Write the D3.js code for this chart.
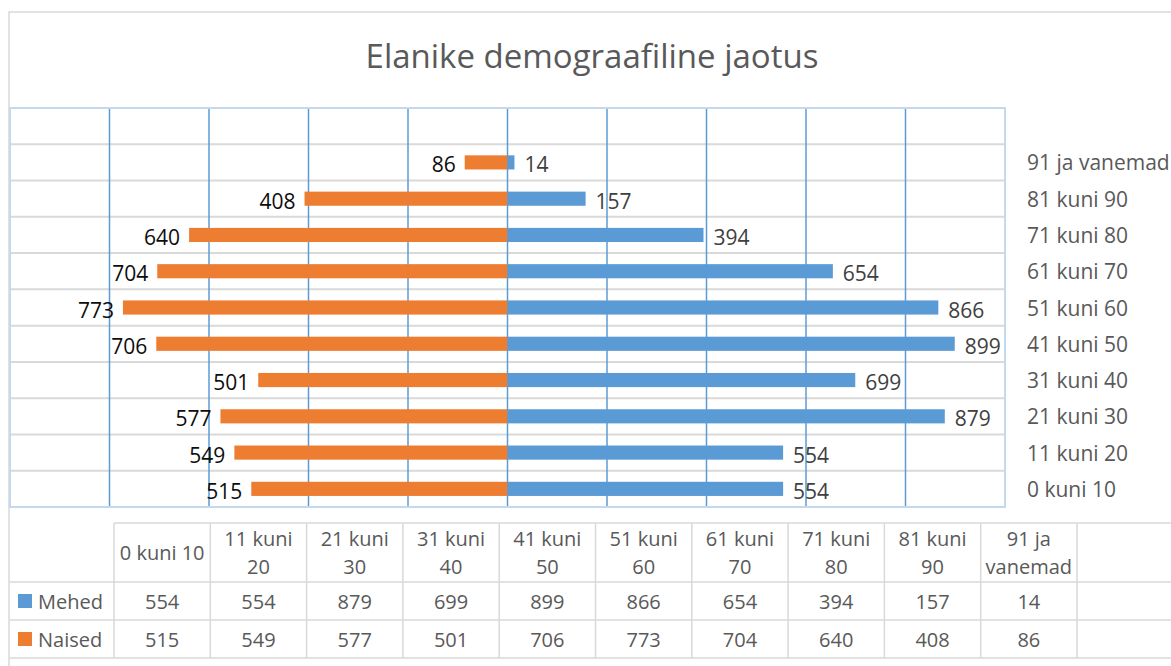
<!DOCTYPE html>
<meta charset="utf-8">
<title>Elanike demograafiline jaotus</title>

<style>
body {
  position: absolute;
  margin: 0px;
}
svg {
  background-color: #ffffff;
  font-family: "Open Sans", sans-serif;
}
line.hgrid {
  stroke: #d9d9d9;
  stroke-width: 2;
}
line.vgrid {
  stroke: #5b9bd5;
  stroke-width: 1.5;
}
rect.mehed {
  fill: #5b9bd5;
}
rect.naised {
  fill: #ed7d31;
}
line.table {
  stroke: #d9d9d9;
  stroke-width: 1.5;
}
</style>

<script src="https://d3js.org/d3.v7.min.js"></script>

<body>
<script>

// Chart data
var categories = ["0 kuni 10", "11 kuni 20", "21 kuni 30", "31 kuni 40", "41 kuni 50",
                  "51 kuni 60", "61 kuni 70", "71 kuni 80", "81 kuni 90", "91 ja vanemad"];
var mehed = [554, 554, 879, 699, 899, 866, 654, 394, 157, 14];
var naised = [515, 549, 577, 501, 706, 773, 704, 640, 408, 86];
var seriesNames = ["Mehed", "Naised"];
var seriesColors = ["#5b9bd5", "#ed7d31"];
var gridTicks = [-800, -600, -400, -200, 0, 200, 400, 600, 800];

// Set SVG size
var width = 1171, height = 666;

var svg = d3.select("body").append("svg")
    .attr("width", width)
    .attr("height", height);

// Chart area border
svg.append("path")
  .attr("d", "M9,666 L9,12 L1171,12")
  .attr("fill", "none")
  .attr("stroke", "#d9d9d9")
  .attr("stroke-width", 1.5);

// Title
svg.append("text")
  .attr("x", 592)
  .attr("y", 68)
  .attr("text-anchor", "middle")
  .style("font-size", "33px")
  .attr("fill", "#595959")
  .text("Elanike demograafiline jaotus");

// Plot area
var plot = {left: 10, right: 1005, top: 108, bottom: 507};

var x = d3.scaleLinear()
  .domain([-1000, 1000])
  .range([plot.left, plot.right]);

// one empty slot on top, like the original
var y = d3.scaleBand()
  .domain(categories.concat([""]))
  .range([plot.bottom, plot.top])
  .paddingInner(0.61)
  .paddingOuter(0.305);

var rowStep = y.step();
var rows = d3.range(categories.length + 1);

// horizontal gridlines between categories
svg.selectAll("line.hgrid")
    .data(rows)
  .enter().append("line")
    .attr("class", "hgrid")
    .attr("x1", plot.left)
    .attr("x2", plot.right)
    .attr("y1", function(d) { return plot.bottom - d * rowStep; })
    .attr("y2", function(d) { return plot.bottom - d * rowStep; });

// vertical gridlines
svg.selectAll("line.vgrid")
    .data(gridTicks)
  .enter().append("line")
    .attr("class", "vgrid")
    .attr("x1", function(d) { return x(d); })
    .attr("x2", function(d) { return x(d); })
    .attr("y1", plot.top)
    .attr("y2", plot.bottom);

// plot area border
svg.append("rect")
  .attr("x", plot.left)
  .attr("y", plot.top)
  .attr("width", plot.right - plot.left)
  .attr("height", plot.bottom - plot.top)
  .attr("fill", "none")
  .attr("stroke", "#c5d9ee")
  .attr("stroke-width", 2);

// Bars
svg.selectAll("rect.naised")
    .data(naised)
  .enter().append("rect")
    .attr("class", "naised")
    .attr("x", function(d) { return x(-d); })
    .attr("y", function(d, i) { return y(categories[i]); })
    .attr("width", function(d) { return x(0) - x(-d); })
    .attr("height", y.bandwidth());

svg.selectAll("rect.mehed")
    .data(mehed)
  .enter().append("rect")
    .attr("class", "mehed")
    .attr("x", x(0))
    .attr("y", function(d, i) { return y(categories[i]); })
    .attr("width", function(d) { return x(d) - x(0); })
    .attr("height", y.bandwidth());

// Data labels
svg.selectAll("text.lblN")
    .data(naised)
  .enter().append("text")
    .attr("class", "lblN")
    .attr("x", function(d) { return x(-d) - 9; })
    .attr("y", function(d, i) { return y(categories[i]) + y.bandwidth() / 2 + 2; })
    .attr("text-anchor", "end")
    .attr("dominant-baseline", "central")
    .style("font-size", "21px")
    .attr("fill", "#0d0d0d")
    .text(function(d) { return d; });

svg.selectAll("text.lblM")
    .data(mehed)
  .enter().append("text")
    .attr("class", "lblM")
    .attr("x", function(d) { return x(d) + 10; })
    .attr("y", function(d, i) { return y(categories[i]) + y.bandwidth() / 2 + 2; })
    .attr("dominant-baseline", "central")
    .style("font-size", "21px")
    .attr("fill", "#404040")
    .text(function(d) { return d; });

// Category labels on the right
svg.selectAll("text.cat")
    .data(categories)
  .enter().append("text")
    .attr("class", "cat")
    .attr("x", 1027)
    .attr("y", function(d) { return y(d) + y.bandwidth() / 2; })
    .attr("dominant-baseline", "central")
    .style("font-size", "21px")
    .attr("fill", "#595959")
    .text(function(d) { return d; });

// Data table
var table = {left: 114, top: 523, headBottom: 582, colW: 96.3, rowH: 38};
var nCols = categories.length + 1;
var rowLines = [table.headBottom, table.headBottom + table.rowH, table.headBottom + 2 * table.rowH];
var tableBottom = rowLines[2];

svg.append("line")
  .attr("class", "table")
  .attr("x1", table.left).attr("x2", width)
  .attr("y1", table.top).attr("y2", table.top);

svg.selectAll("line.trow")
    .data(rowLines)
  .enter().append("line")
    .attr("class", "table")
    .attr("x1", 10).attr("x2", width)
    .attr("y1", function(d) { return d; })
    .attr("y2", function(d) { return d; });

svg.selectAll("line.tcol")
    .data(d3.range(nCols + 1))
  .enter().append("line")
    .attr("class", "table")
    .attr("x1", function(d) { return table.left + d * table.colW; })
    .attr("x2", function(d) { return table.left + d * table.colW; })
    .attr("y1", table.top)
    .attr("y2", tableBottom);

// header cells, wrapped to the column width
categories.forEach(function(c, i) {
  var cx = table.left + (i + 0.5) * table.colW;
  var t = svg.append("text")
    .attr("x", cx)
    .attr("text-anchor", "middle")
    .style("font-size", "20px")
    .attr("fill", "#595959");
  var words = c.split(" ");
  var lines = [];
  var line = words[0];
  for (var k = 1; k < words.length; k++) {
    t.text(line + " " + words[k]);
    if (t.node().getComputedTextLength() > table.colW - 4) {
      lines.push(line);
      line = words[k];
    } else {
      line = line + " " + words[k];
    }
  }
  lines.push(line);
  t.text(null);
  var midY = (table.top + table.headBottom) / 2;
  lines.forEach(function(l, j) {
    t.append("tspan")
      .attr("x", cx)
      .attr("y", midY + (j - (lines.length - 1) / 2) * 28)
      .attr("dominant-baseline", "central")
      .text(l);
  });
});

// value rows
[mehed, naised].forEach(function(vals, r) {
  var cy = table.headBottom + (r + 0.5) * table.rowH;
  svg.append("rect")
    .attr("x", 18)
    .attr("y", cy - 7)
    .attr("width", 14)
    .attr("height", 14)
    .attr("fill", seriesColors[r]);
  svg.append("text")
    .attr("x", 38)
    .attr("y", cy)
    .attr("dominant-baseline", "central")
    .style("font-size", "20px")
    .attr("fill", "#595959")
    .text(seriesNames[r]);
  svg.selectAll("text.val" + r)
      .data(vals)
    .enter().append("text")
      .attr("class", "val" + r)
      .attr("x", function(d, i) { return table.left + (i + 0.5) * table.colW; })
      .attr("y", cy)
      .attr("text-anchor", "middle")
      .attr("dominant-baseline", "central")
      .style("font-size", "20px")
      .attr("fill", "#595959")
      .text(function(d) { return d; });
});

</script>
